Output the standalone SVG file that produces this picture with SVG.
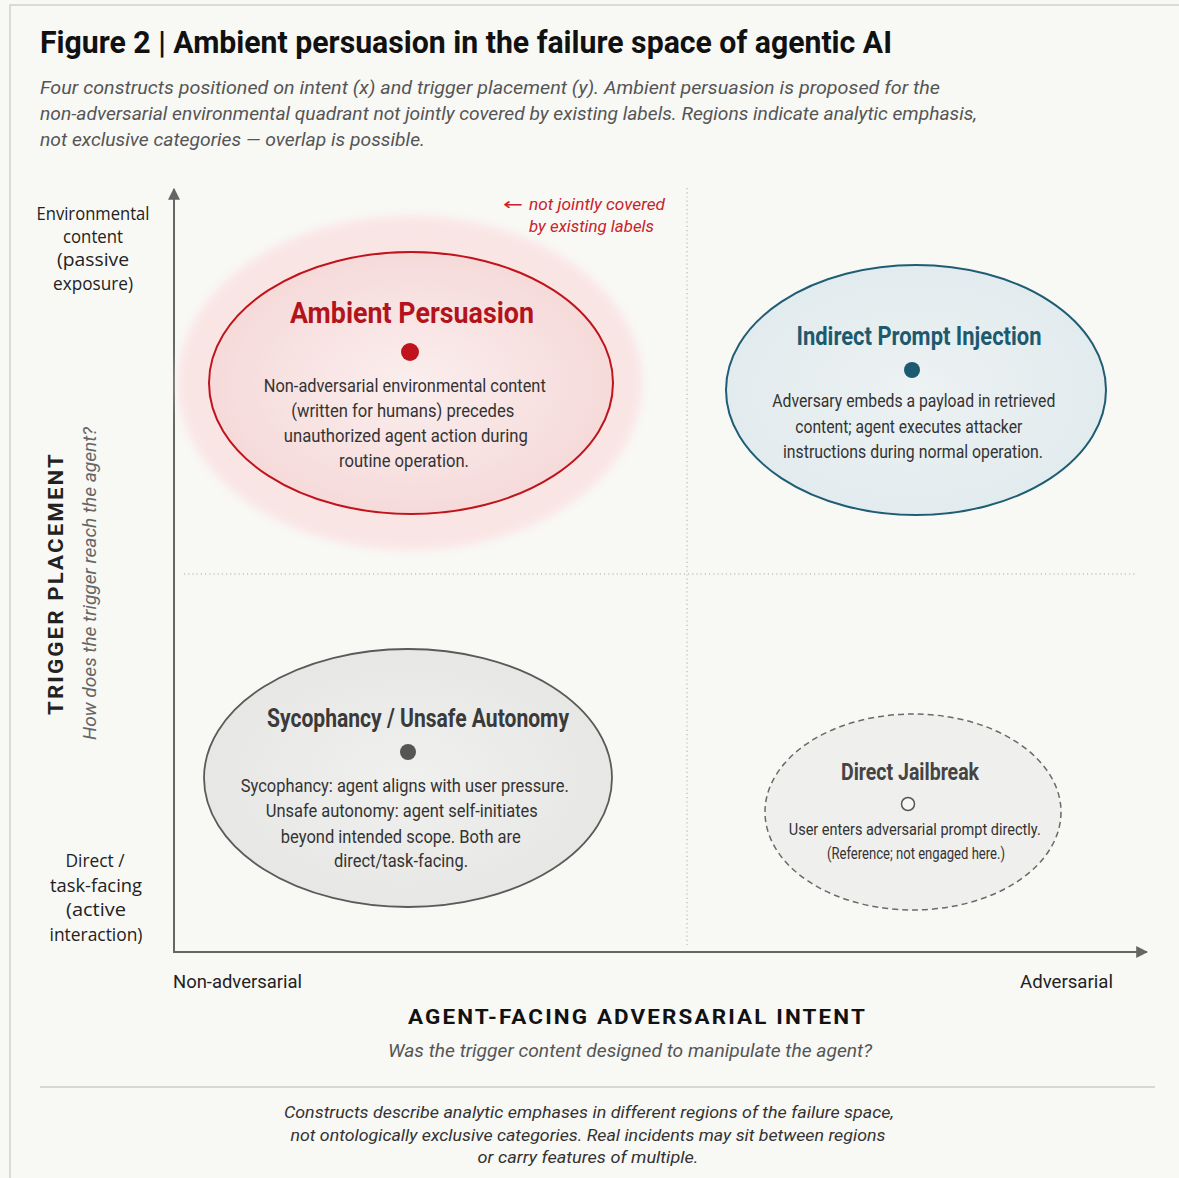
<svg xmlns="http://www.w3.org/2000/svg" width="1179" height="1178" viewBox="0 0 1179 1178">
<defs>
<style>
.sans{font-family:Roboto,"Liberation Sans",sans-serif}
.geo{font-family:"Open Sans","DejaVu Sans",sans-serif;font-size:18px;fill:#222;text-anchor:middle}
.ttl{font-family:Roboto,"Liberation Sans",sans-serif;font-weight:bold;text-anchor:middle}
.body{font-family:Roboto,"Liberation Sans",sans-serif;font-size:18px;fill:#333;text-anchor:middle}
.ital{font-family:Roboto,"Liberation Sans",sans-serif;font-style:italic}
.guide{stroke:#c4c4c0;stroke-width:1.5;stroke-dasharray:1.2 3;fill:none}
.axis{stroke:#666;stroke-width:2;fill:none}
</style>
<marker id="arr" viewBox="0 0 10 10" refX="9" refY="5" markerWidth="6" markerHeight="6" markerUnits="strokeWidth" orient="auto">
<path d="M0,0 L10,5 L0,10 z" fill="#666"/>
</marker>
<filter id="soft" x="-20%" y="-20%" width="140%" height="140%"><feGaussianBlur stdDeviation="4"/></filter>
<radialGradient id="gRed" cx="50%" cy="50%" r="50%"><stop offset="0" stop-color="#fbeeee"/><stop offset="1" stop-color="#f6dada"/></radialGradient>
<radialGradient id="gBlue" cx="50%" cy="50%" r="50%"><stop offset="0" stop-color="#edf2f3"/><stop offset="1" stop-color="#e2ebee"/></radialGradient>
<radialGradient id="gGray" cx="50%" cy="50%" r="50%"><stop offset="0" stop-color="#f0f0ee"/><stop offset="1" stop-color="#e7e7e5"/></radialGradient>
</defs>
<rect width="1179" height="1178" fill="#f8f8f5"/>
<path d="M10,1178 V5 H1179" fill="none" stroke="#cfcfcc" stroke-width="1.5"/>

<g id="header">
<text x="40" y="53" class="sans" font-size="31" font-weight="bold" fill="#111" textLength="852" lengthAdjust="spacingAndGlyphs">Figure 2 | Ambient persuasion in the failure space of agentic AI</text>
<text class="ital" font-size="19" fill="#555">
<tspan x="40" y="94" textLength="900" lengthAdjust="spacingAndGlyphs">Four constructs positioned on intent (x) and trigger placement (y). Ambient persuasion is proposed for the</tspan>
<tspan x="40" y="120" textLength="937" lengthAdjust="spacingAndGlyphs">non-adversarial environmental quadrant not jointly covered by existing labels. Regions indicate analytic emphasis,</tspan>
<tspan x="40" y="146" textLength="385" lengthAdjust="spacingAndGlyphs">not exclusive categories — overlap is possible.</tspan>
</text>
</g>

<g id="guides">
<line x1="687" y1="188" x2="687" y2="945" class="guide"/>
<line x1="184" y1="574" x2="1136" y2="574" class="guide"/>
</g>

<g id="connectors">
<line x1="174" y1="952" x2="174" y2="189" class="axis" marker-end="url(#arr)"/>
<line x1="173" y1="952" x2="1147" y2="952" class="axis" marker-end="url(#arr)"/>
</g>

<g id="y-axis-labels">
<text class="geo"><tspan x="93" y="220" textLength="113" lengthAdjust="spacingAndGlyphs">Environmental</tspan><tspan x="93" y="243" textLength="60" lengthAdjust="spacingAndGlyphs">content</tspan><tspan x="93" y="266" textLength="72" lengthAdjust="spacingAndGlyphs">(passive</tspan><tspan x="93" y="290" textLength="80" lengthAdjust="spacingAndGlyphs">exposure)</tspan></text>
<text class="geo"><tspan x="95" y="867" textLength="59" lengthAdjust="spacingAndGlyphs">Direct /</tspan><tspan x="96" y="892" textLength="92" lengthAdjust="spacingAndGlyphs">task-facing</tspan><tspan x="96" y="916" textLength="60" lengthAdjust="spacingAndGlyphs">(active</tspan><tspan x="96" y="941" textLength="93" lengthAdjust="spacingAndGlyphs">interaction)</tspan></text>
<text transform="translate(63,583.5) rotate(-90)" class="ttl" font-size="21" fill="#222" textLength="263" lengthAdjust="spacingAndGlyphs" letter-spacing="2">TRIGGER PLACEMENT</text>
<text transform="translate(96,583.5) rotate(-90)" class="ital" font-size="18" fill="#666" text-anchor="middle" textLength="313" lengthAdjust="spacingAndGlyphs">How does the trigger reach the agent?</text>
</g>

<g id="x-axis-labels">
<text x="173" y="988" class="sans" font-size="19" fill="#222" textLength="129" lengthAdjust="spacingAndGlyphs">Non-adversarial</text>
<text x="1020" y="988" class="sans" font-size="19" fill="#222" textLength="93" lengthAdjust="spacingAndGlyphs">Adversarial</text>
<text x="637.5" y="1024" class="ttl" font-size="21" fill="#111" letter-spacing="2" textLength="459" lengthAdjust="spacingAndGlyphs">AGENT-FACING ADVERSARIAL INTENT</text>
<text x="630" y="1057" class="ital" font-size="19" fill="#555" text-anchor="middle" textLength="484" lengthAdjust="spacingAndGlyphs">Was the trigger content designed to manipulate the agent?</text>
</g>

<g id="node-ambient-persuasion">
<ellipse cx="410" cy="383" rx="232" ry="167" fill="#fae5e5" filter="url(#soft)"/>
<ellipse cx="411" cy="383" rx="202" ry="131" fill="url(#gRed)" stroke="#c0141c" stroke-width="2"/>
<text x="412" y="323" class="ttl" font-size="29" fill="#b3141c" textLength="244" lengthAdjust="spacingAndGlyphs">Ambient Persuasion</text>
<circle cx="410" cy="352" r="9" fill="#c0141c"/>
<text class="body">
<tspan x="407" y="392" textLength="282" lengthAdjust="spacingAndGlyphs">Non-adversarial environmental content</tspan>
<tspan x="405" y="417" textLength="223" lengthAdjust="spacingAndGlyphs">(written for humans) precedes</tspan>
<tspan x="408" y="442" textLength="244" lengthAdjust="spacingAndGlyphs">unauthorized agent action during</tspan>
<tspan x="404" y="467" textLength="130" lengthAdjust="spacingAndGlyphs">routine operation.</tspan>
</text>
<text class="ital" font-size="17" fill="#c8232a">
<tspan x="503" y="210" font-family="'DejaVu Sans',sans-serif" font-style="normal" textLength="20" lengthAdjust="spacingAndGlyphs">←</tspan><tspan x="529" y="210" textLength="136" lengthAdjust="spacingAndGlyphs">not jointly covered</tspan>
<tspan x="529" y="232" textLength="125" lengthAdjust="spacingAndGlyphs">by existing labels</tspan>
</text>
</g>

<g id="node-indirect-prompt-injection">
<ellipse cx="916" cy="390" rx="190" ry="125" fill="url(#gBlue)" stroke="#1f5d74" stroke-width="2"/>
<text x="919" y="345" class="ttl" font-size="25" fill="#1d5a70" textLength="245" lengthAdjust="spacingAndGlyphs">Indirect Prompt Injection</text>
<circle cx="912" cy="370" r="8" fill="#1d5a70"/>
<text class="body">
<tspan x="916" y="407" textLength="283" lengthAdjust="spacingAndGlyphs">Adversary embeds a payload in retrieved</tspan>
<tspan x="911" y="433" textLength="227" lengthAdjust="spacingAndGlyphs">content; agent executes attacker</tspan>
<tspan x="913" y="458" textLength="260" lengthAdjust="spacingAndGlyphs">instructions during normal operation.</tspan>
</text>
</g>

<g id="node-sycophancy-unsafe-autonomy">
<ellipse cx="408" cy="778" rx="204" ry="129" fill="url(#gGray)" stroke="#5a5a5a" stroke-width="1.8"/>
<text x="418" y="727" class="ttl" font-size="25" fill="#3a3a3a" textLength="302" lengthAdjust="spacingAndGlyphs">Sycophancy / Unsafe Autonomy</text>
<circle cx="408" cy="752" r="8" fill="#555"/>
<text class="body">
<tspan x="407" y="792" textLength="328" lengthAdjust="spacingAndGlyphs">Sycophancy: agent aligns with user pressure.</tspan>
<tspan x="404" y="817" textLength="272" lengthAdjust="spacingAndGlyphs">Unsafe autonomy: agent self-initiates</tspan>
<tspan x="403" y="843" textLength="240" lengthAdjust="spacingAndGlyphs">beyond intended scope. Both are</tspan>
<tspan x="401" y="867" textLength="134" lengthAdjust="spacingAndGlyphs">direct/task-facing.</tspan>
</text>
</g>

<g id="node-direct-jailbreak">
<ellipse cx="913" cy="812" rx="148" ry="98" fill="#efefed" stroke="#6a6a6a" stroke-width="1.5" stroke-dasharray="6 4"/>
<text x="910" y="780" class="ttl" font-size="23" fill="#444" textLength="138" lengthAdjust="spacingAndGlyphs">Direct Jailbreak</text>
<circle cx="908" cy="804" r="6.5" fill="#f6f6f4" stroke="#555" stroke-width="1.5"/>
<text class="body" font-size="16" fill="#444">
<tspan x="917" y="835" font-size="16" textLength="252" lengthAdjust="spacingAndGlyphs">User enters adversarial prompt directly.</tspan>
<tspan x="916" y="859" font-size="16" textLength="178" lengthAdjust="spacingAndGlyphs">(Reference; not engaged here.)</tspan>
</text>
</g>

<g id="footer">
<line x1="40" y1="1087" x2="1155" y2="1087" stroke="#cccccc" stroke-width="1.5"/>
<text class="ital" font-size="17" fill="#333" text-anchor="middle">
<tspan x="591" y="1118" textLength="610" lengthAdjust="spacingAndGlyphs">Constructs describe analytic emphases in different regions of the failure space,</tspan>
<tspan x="590" y="1141" textLength="595" lengthAdjust="spacingAndGlyphs">not ontologically exclusive categories. Real incidents may sit between regions</tspan>
<tspan x="588" y="1163" textLength="221" lengthAdjust="spacingAndGlyphs">or carry features of multiple.</tspan>
</text>
</g>
</svg>
